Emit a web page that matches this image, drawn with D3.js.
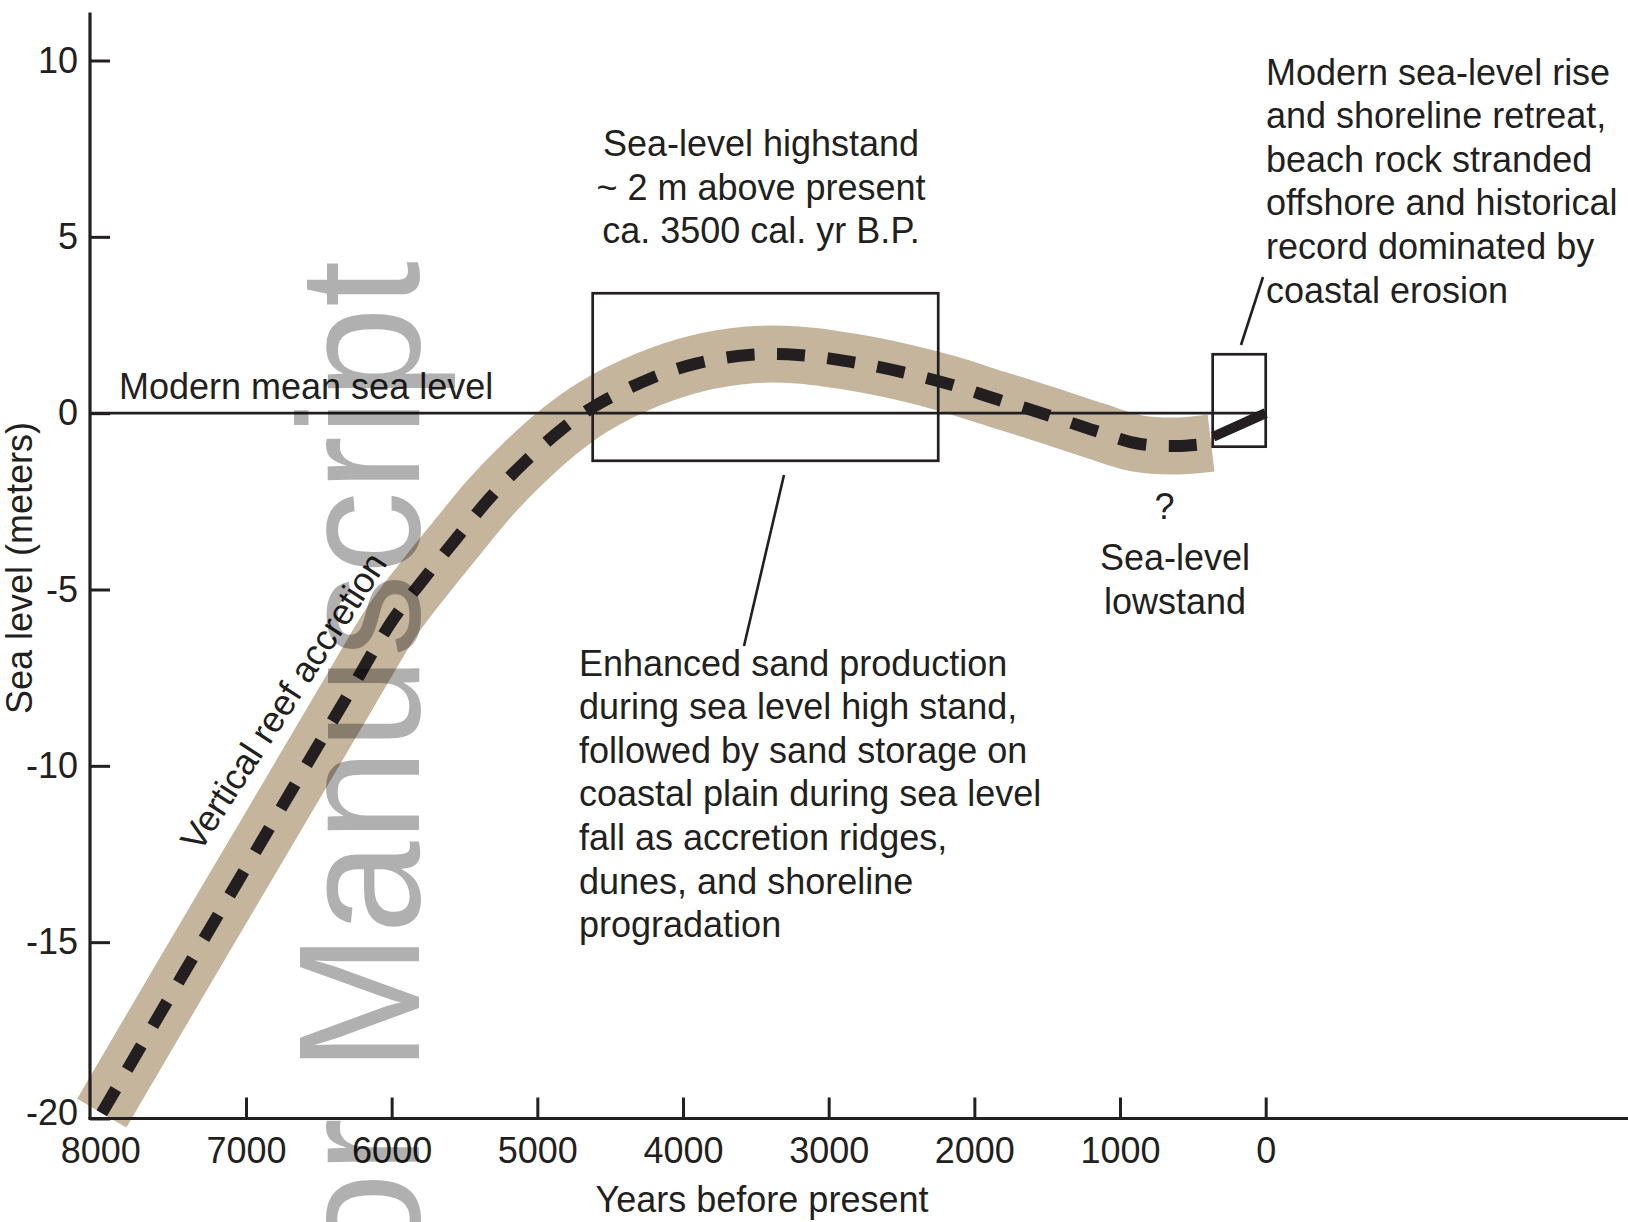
<!DOCTYPE html>
<html>
<head>
<meta charset="utf-8">
<script src="https://cdn.jsdelivr.net/npm/d3@7"></script>
<style>
    body { margin: 0; background: #fff; }
    svg text { font-family: "Liberation Sans", Arial, Helvetica, sans-serif; fill: #231f20; }
</style>
</head>
<body>
<div id="chart"></div>
<script>
/* * * * * * * * * * * * * * * *
 *   Holocene sea-level curve    *
 * * * * * * * * * * * * * * * */

// reconstructed sea level (years before present, metres)
const curveYears  = [7990, 7430, 6880, 6330, 5990, 5760, 5555, 5325, 5095, 4845, 4615,
                     4230, 3905, 3550, 3210, 2855, 2510, 2170, 1850, 1500, 1170, 880, 610, 375];
const curveLevels = [-19.85, -15.9, -12.05, -8.2, -5.85, -4.6, -3.55, -2.4, -1.42, -0.5, 0.18,
                     0.97, 1.41, 1.65, 1.65, 1.46, 1.18, 0.82, 0.4, -0.05, -0.5, -0.86, -0.93, -0.85];

// modern sea-level rise
const modernYears  = [360, 0];
const modernLevels = [-0.67, 0];

// axis ticks
const xTicks = [8000, 7000, 6000, 5000, 4000, 3000, 2000, 1000, 0];
const yTicks = [-20, -15, -10, -5, 0, 5, 10];

// highlighted windows: [older, younger] years, [top, bottom] metres
const boxYears  = [[4620, 2248], [364, 0]];
const boxLevels = [[3.4, -1.35], [1.67, -0.95]];

// annotation text
const highstandLines = ['Sea-level highstand', '~ 2 m above present', 'ca. 3500 cal. yr B.P.'];
const modernLines = ['Modern sea-level rise', 'and shoreline retreat,', 'beach rock stranded',
                     'offshore and historical', 'record dominated by', 'coastal erosion'];
const sandLines = ['Enhanced sand production', 'during sea level high stand,', 'followed by sand storage on',
                   'coastal plain during sea level', 'fall as accretion ridges,', 'dunes, and shoreline', 'progradation'];
const lowstandLines = ['Sea-level', 'lowstand'];

const width = 1628;
const height = 1222;
const ink = '#231f20';
const lineGap = 43.6;

const svg = d3.select('#chart')
    .append('svg')
    .attr('width', width)
    .attr('height', height)
    .attr('viewBox', `0 0 ${width} ${height}`);

const x = d3.scaleLinear().domain([8000, 0]).range([100.3, 1265.7]);
const y = d3.scaleLinear().domain([-20, 10]).range([1118.5, 60.5]);

const axisLeftX = 90;
const curveData = curveYears.map((yr, i) => [yr, curveLevels[i]]);
const modernData = modernYears.map((yr, i) => [yr, modernLevels[i]]);

const line = d3.line()
    .x(d => x(d[0]))
    .y(d => y(d[1]))
    .curve(d3.curveCatmullRom.alpha(0.5));

// tan uncertainty band
svg.append('path')
    .datum(curveData)
    .attr('d', line)
    .attr('fill', 'none')
    .attr('stroke', '#c5b59d')
    .attr('stroke-width', 57)
    .attr('stroke-linecap', 'butt');

// dashed curve
svg.append('path')
    .datum(curveData)
    .attr('d', line)
    .attr('fill', 'none')
    .attr('stroke', ink)
    .attr('stroke-width', 12)
    .attr('stroke-dasharray', '28 22.5');

// modern rise
svg.append('path')
    .datum(modernData)
    .attr('d', d3.line().x(d => x(d[0])).y(d => y(d[1])))
    .attr('fill', 'none')
    .attr('stroke', ink)
    .attr('stroke-width', 10);

// modern mean sea level
svg.append('line')
    .attr('x1', axisLeftX).attr('x2', x(0))
    .attr('y1', y(0)).attr('y2', y(0))
    .attr('stroke', ink)
    .attr('stroke-width', 2.6);

// axes
const plain = d => String(d);
const yAxis = d3.axisLeft(y).tickValues(yTicks).tickFormat(plain)
    .tickSizeInner(-20).tickSizeOuter(0).tickPadding(12);
const xAxis = d3.axisBottom(x).tickValues(xTicks).tickFormat(plain)
    .tickSizeInner(-21).tickSizeOuter(0).tickPadding(19);

const gy = svg.append('g')
    .attr('transform', `translate(${axisLeftX},0)`)
    .call(yAxis);
const gx = svg.append('g')
    .attr('transform', `translate(0,${y(-20)})`)
    .call(xAxis);

[gx, gy].forEach(g => {
    g.attr('font-family', null).attr('font-size', 36);
    g.select('.domain').remove();
    g.selectAll('.tick line').attr('stroke', ink).attr('stroke-width', 3);
    g.selectAll('.tick text').attr('fill', ink);
});
gx.selectAll('.tick').filter(d => d === 8000).select('line').remove();
// bottom label sits a little above the corner
gy.selectAll('.tick').filter(d => d === -20).select('text').attr('y', -6);

svg.append('line')
    .attr('x1', axisLeftX).attr('x2', axisLeftX)
    .attr('y1', 12.5).attr('y2', y(-20))
    .attr('stroke', ink).attr('stroke-width', 3.2);
svg.append('line')
    .attr('x1', axisLeftX - 1.6).attr('x2', width)
    .attr('y1', y(-20)).attr('y2', y(-20))
    .attr('stroke', ink).attr('stroke-width', 3.2);

// boxes
svg.selectAll('.window')
    .data(boxYears)
    .enter()
    .append('rect')
    .attr('class', 'window')
    .attr('x', d => x(d[0]))
    .attr('width', d => x(d[1]) - x(d[0]))
    .attr('y', (d, i) => y(boxLevels[i][0]))
    .attr('height', (d, i) => y(boxLevels[i][1]) - y(boxLevels[i][0]))
    .attr('fill', 'none')
    .attr('stroke', ink)
    .attr('stroke-width', 2.7);

// leader lines
const leaders = [[[784, 475], [744, 646]], [[1241, 345], [1263, 277]]];
svg.selectAll('.leader')
    .data(leaders)
    .enter()
    .append('line')
    .attr('class', 'leader')
    .attr('x1', d => d[0][0]).attr('y1', d => d[0][1])
    .attr('x2', d => d[1][0]).attr('y2', d => d[1][1])
    .attr('stroke', ink)
    .attr('stroke-width', 2.6);

// text blocks
function block(lines, px, py, anchor) {
    svg.append('text')
        .attr('font-size', 36)
        .attr('text-anchor', anchor)
        .selectAll('tspan')
        .data(lines)
        .enter()
        .append('tspan')
        .attr('x', px)
        .attr('y', (d, i) => py + i * lineGap)
        .text(d => d);
}

block(highstandLines, 761, 156, 'middle');
block(modernLines, 1266, 84.5, 'start');
block(sandLines, 579, 675.5, 'start');
block(lowstandLines, 1175, 570, 'middle');
block(['?'], 1164.5, 519, 'middle');
block(['Modern mean sea level'], 119, 399, 'start');

svg.append('text')
    .attr('font-size', 36)
    .attr('text-anchor', 'middle')
    .attr('transform', 'translate(294,708) rotate(-57)')
    .text('Vertical reef accretion');

// axis titles
svg.append('text')
    .attr('font-size', 36)
    .attr('text-anchor', 'middle')
    .attr('x', 762)
    .attr('y', 1212)
    .text('Years before present');

svg.append('text')
    .attr('font-size', 36)
    .attr('text-anchor', 'middle')
    .attr('transform', 'translate(32,568) rotate(-90)')
    .text('Sea level (meters)');

// watermark
svg.append('text')
    .attr('font-size', 172)
    .attr('text-anchor', 'end')
    .attr('transform', 'translate(419,261) rotate(-90) scale(0.964,1)')
    .style('fill', '#000')
    .style('fill-opacity', 0.31)
    .text('Author Manuscript');
</script>
</body>
</html>
